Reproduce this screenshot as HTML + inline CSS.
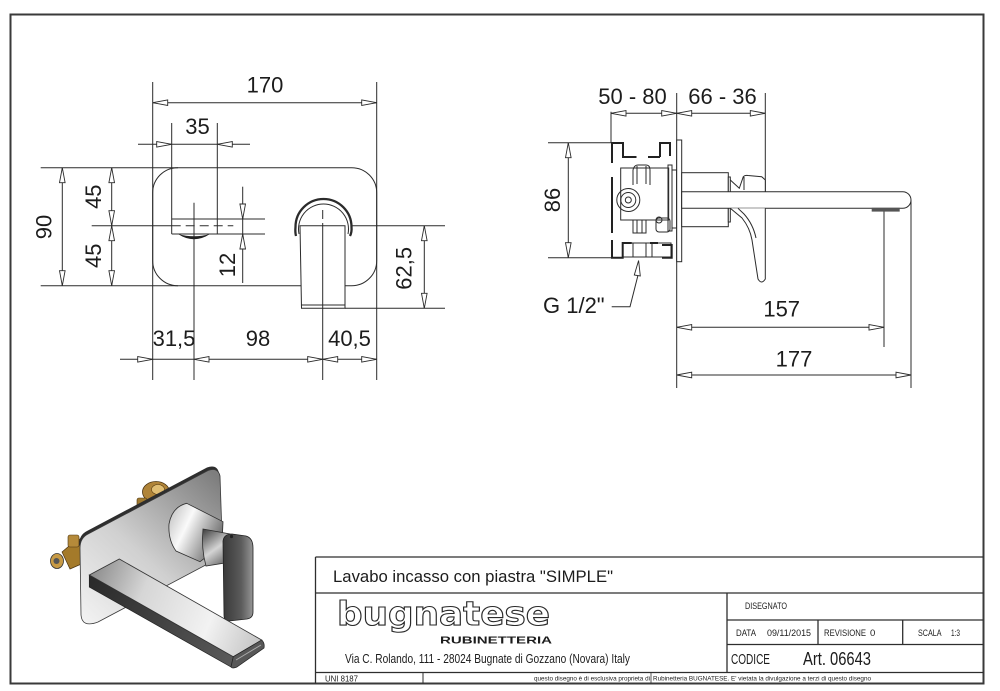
<!DOCTYPE html>
<html><head><meta charset="utf-8"><style>
html,body{margin:0;padding:0;background:#fff;}
svg{display:block;}
text{font-family:"Liberation Sans",Arial,sans-serif;fill:#1c1c1c;}
.n{font-family:"Liberation Sans Narrow","Liberation Sans",Arial,sans-serif;}
</style></head><body>
<svg width="1000" height="691" viewBox="0 0 1000 691" xmlns="http://www.w3.org/2000/svg">
<defs>
<linearGradient id="plateG" gradientUnits="userSpaceOnUse" x1="82" y1="620" x2="215" y2="475"><stop offset="0" stop-color="#f2f2f2"/><stop offset="0.45" stop-color="#d0d0d0"/><stop offset="1" stop-color="#7e7e7e"/></linearGradient>
<linearGradient id="cylG" gradientUnits="userSpaceOnUse" x1="170" y1="520" x2="222" y2="545"><stop offset="0" stop-color="#cfcfcf"/><stop offset="0.3" stop-color="#fafafa"/><stop offset="0.7" stop-color="#a0a0a0"/><stop offset="1" stop-color="#5e5e5e"/></linearGradient>
<linearGradient id="neckG" gradientUnits="userSpaceOnUse" x1="205" y1="530" x2="230" y2="565"><stop offset="0" stop-color="#4a4a4a"/><stop offset="0.5" stop-color="#d4d4d4"/><stop offset="1" stop-color="#555"/></linearGradient>
<linearGradient id="levG" gradientUnits="userSpaceOnUse" x1="224" y1="0" x2="253" y2="0"><stop offset="0" stop-color="#3a3a3a"/><stop offset="0.6" stop-color="#5c5c5c"/><stop offset="1" stop-color="#959595"/></linearGradient>
<linearGradient id="spTop" gradientUnits="userSpaceOnUse" x1="90" y1="575" x2="260" y2="645"><stop offset="0" stop-color="#8c8c8c"/><stop offset="0.3" stop-color="#d6d6d6"/><stop offset="0.7" stop-color="#f2f2f2"/><stop offset="1" stop-color="#c4c4c4"/></linearGradient>
<linearGradient id="spSide" gradientUnits="userSpaceOnUse" x1="90" y1="580" x2="232" y2="665"><stop offset="0" stop-color="#2a2a2a"/><stop offset="1" stop-color="#5a5a5a"/></linearGradient>
</defs>

<!-- frame -->
<rect x="10.5" y="14.5" width="973" height="669" fill="none" stroke="#3a3a3a" stroke-width="2"/>

<!-- ================= FRONT VIEW ================= -->
<g stroke="#2b2b2b" stroke-width="1" fill="none">
<rect x="152.7" y="167.7" width="224" height="118" rx="25" ry="25"/>
<line x1="152.7" y1="82" x2="152.7" y2="380"/>
<line x1="376.7" y1="82" x2="376.7" y2="380"/>
<line x1="152.7" y1="102.7" x2="376.7" y2="102.7"/>
<line x1="171.7" y1="123" x2="171.7" y2="234"/>
<line x1="217.3" y1="123" x2="217.3" y2="234"/>
<line x1="138" y1="144.3" x2="250" y2="144.3"/>
<line x1="40.7" y1="167.7" x2="178" y2="167.7"/>
<line x1="40.7" y1="285.7" x2="178" y2="285.7"/>
<line x1="91.7" y1="225.7" x2="171.7" y2="225.7"/>
<line x1="171.7" y1="225.7" x2="233.3" y2="225.7" stroke-dasharray="9,5"/>
<line x1="171.7" y1="219" x2="265" y2="219"/>
<line x1="171.7" y1="234" x2="265" y2="234"/>
<line x1="62.3" y1="167.7" x2="62.3" y2="285.7"/>
<line x1="111.7" y1="167.7" x2="111.7" y2="285.7"/>
<line x1="242.7" y1="186.7" x2="242.7" y2="283"/>
<line x1="194" y1="202.7" x2="194" y2="380"/>
<path d="M300,225.7 L345,225.7 L345,308.3 L301.5,308.3 Z" fill="#fff"/>
<line x1="301.3" y1="305" x2="345" y2="305"/>
<path d="M296,236 Q295,232 295.5,227 A28,28 0 1,1 351.5,227 Q352,232 350,236" stroke-width="2.3"/>
<path d="M299,234 A25,25 0 1,1 348,234"/>
<line x1="322.7" y1="210" x2="322.7" y2="219"/>
<line x1="322.7" y1="223" x2="322.7" y2="380"/>
<line x1="352" y1="225.7" x2="445" y2="225.7"/>
<line x1="345" y1="308.3" x2="445" y2="308.3"/>
<line x1="424.3" y1="225.7" x2="424.3" y2="308.3"/>
<line x1="120" y1="359.3" x2="376.7" y2="359.3"/>
</g>
<path d="M178,234 Q194,244.5 210,234 Q194,238.5 178,234 Z" fill="#222"/>
<g fill="#fff" stroke="#2b2b2b" stroke-width="0.9">
<polygon points="152.7,102.7 167.7,99.9 167.7,105.5"/>
<polygon points="376.7,102.7 361.7,99.9 361.7,105.5"/>
<polygon points="171.7,144.3 156.7,141.5 156.7,147.1"/>
<polygon points="217.3,144.3 232.3,141.5 232.3,147.1"/>
<polygon points="62.3,167.7 59.5,182.7 65.1,182.7"/>
<polygon points="62.3,285.7 59.5,270.7 65.1,270.7"/>
<polygon points="111.7,167.7 108.9,182.7 114.5,182.7"/>
<polygon points="111.7,225.7 108.9,210.7 114.5,210.7"/>
<polygon points="111.7,225.7 108.9,240.7 114.5,240.7"/>
<polygon points="111.7,285.7 108.9,270.7 114.5,270.7"/>
<polygon points="242.7,219 239.9,204 245.5,204"/>
<polygon points="242.7,234 239.9,249 245.5,249"/>
<polygon points="424.3,225.7 421.5,240.7 427.1,240.7"/>
<polygon points="424.3,308.3 421.5,293.3 427.1,293.3"/>
<polygon points="152.7,359.3 137.7,356.5 137.7,362.1"/>
<polygon points="194,359.3 209,356.5 209,362.1"/>
<polygon points="322.7,359.3 307.7,356.5 307.7,362.1"/>
<polygon points="322.7,359.3 337.7,356.5 337.7,362.1"/>
<polygon points="376.7,359.3 361.7,356.5 361.7,362.1"/>
</g>
<g font-size="22" text-anchor="middle">
<text x="265" y="92.7">170</text>
<text x="197.5" y="134">35</text>
<text transform="translate(51.5,227) rotate(-90)">90</text>
<text transform="translate(101,196.7) rotate(-90)">45</text>
<text transform="translate(101,255.8) rotate(-90)">45</text>
<text transform="translate(235,265) rotate(-90)">12</text>
<text transform="translate(411.5,268.3) rotate(-90)">62,5</text>
<text x="174" y="346">31,5</text>
<text x="258" y="346">98</text>
<text x="349.5" y="346">40,5</text>
</g>

<!-- ================= SIDE VIEW ================= -->
<g stroke="#2b2b2b" stroke-width="1" fill="none">
<line x1="611" y1="111.7" x2="611" y2="143"/>
<line x1="676.7" y1="93" x2="676.7" y2="388"/>
<line x1="765.3" y1="93" x2="765.3" y2="193"/>
<line x1="611" y1="113.3" x2="765.3" y2="113.3"/>
<line x1="548" y1="142.7" x2="611" y2="142.7"/>
<line x1="548" y1="257.7" x2="611" y2="257.7"/>
<line x1="568.3" y1="142.7" x2="568.3" y2="257.7"/>
<line x1="676.7" y1="327.3" x2="884" y2="327.3"/>
<line x1="884" y1="211" x2="884" y2="347"/>
<line x1="676.7" y1="375" x2="911" y2="375"/>
<line x1="911" y1="200" x2="911" y2="388"/>
<polyline points="638.3,274 630,306.7 611.7,306.7"/>
<rect x="620.7" y="168" width="48" height="52"/>
<rect x="668" y="165" width="4" height="66"/>
<rect x="672" y="170" width="4.7" height="58"/>
<path d="M633,185 L633,170 Q634,165 638,165 L646,165 Q650,165 650,170 L650,185"/>
<line x1="637" y1="166" x2="637" y2="184"/><line x1="646" y1="166" x2="646" y2="184"/>
<circle cx="628.3" cy="200" r="11.5"/>
<circle cx="628.3" cy="200" r="7.5"/>
<circle cx="628.3" cy="200" r="3"/>
<rect x="633" y="220" width="13" height="13"/>
<line x1="637" y1="220" x2="637" y2="233"/><line x1="642" y1="220" x2="642" y2="233"/>
<rect x="656" y="218" width="14" height="14" rx="3"/>
<circle cx="659" cy="220" r="3"/>
<rect x="623" y="243" width="48" height="14"/>
<line x1="633" y1="243" x2="633" y2="257"/><line x1="646" y1="243" x2="646" y2="257"/><line x1="652" y1="243" x2="652" y2="257"/>
<rect x="676.7" y="140" width="5" height="121.7" fill="#fff"/>
<rect x="681.7" y="172.7" width="46.6" height="54" fill="#fff"/>
<rect x="728.3" y="177" width="2" height="45" fill="#fff"/>
<path d="M730.3,180 L739.3,188.3 L743.3,176.7 Q745,175 748,175.5 L761.7,176.7 L765.3,180 L765.3,191.7" fill="#fff"/>
<line x1="744" y1="177" x2="744" y2="190"/>
<path d="M681.7,191.7 L902.7,191.7 A8.3,8.3 0 0 1 902.7,208.3 L681.7,208.3 Z" fill="#fff"/>
<path d="M730.3,208.3 L742,218 Q750,228 752,240 L758,279 Q761.5,285 765.3,279 L765.3,208.3" fill="#fff"/>
<path d="M738,208.3 L744,214 Q753,224 756,238" />
</g>
<rect x="871.7" y="207.8" width="28" height="3.8" fill="#555"/>
<g stroke="#222" stroke-width="2" fill="none">
<polyline points="612,163 612,143 623,143 623,157 636.5,157"/>
<line x1="648" y1="157" x2="660" y2="157"/>
<polyline points="660,157 660,143 670,143 670,156"/>
<line x1="612" y1="177" x2="612" y2="233"/>
<polyline points="612,240 612,257.7 622.7,257.7 622.7,243 631.7,243"/>
<line x1="650" y1="243" x2="658" y2="243"/>
<polyline points="662,245 671.7,245 671.7,257.7 662,257.7"/>
</g>
<g fill="#fff" stroke="#2b2b2b" stroke-width="0.9">
<polygon points="611,113.3 626,110.5 626,116.1"/>
<polygon points="676.7,113.3 661.7,110.5 661.7,116.1"/>
<polygon points="676.7,113.3 691.7,110.5 691.7,116.1"/>
<polygon points="765.3,113.3 750.3,110.5 750.3,116.1"/>
<polygon points="568.3,142.7 565.5,157.7 571.1,157.7"/>
<polygon points="568.3,257.7 565.5,242.7 571.1,242.7"/>
<polygon points="676.7,327.3 691.7,324.5 691.7,330.1"/>
<polygon points="884,327.3 869,324.5 869,330.1"/>
<polygon points="676.7,375 691.7,372.2 691.7,377.8"/>
<polygon points="911,375 896,372.2 896,377.8"/>
<polygon points="638.6,260.5 634.3,275 640.3,276"/>
</g>
<g font-size="22" text-anchor="middle">
<text x="632.5" y="104">50 - 80</text>
<text x="722.5" y="104">66 - 36</text>
<text transform="translate(560,200) rotate(-90)">86</text>
<text x="781.7" y="316.7">157</text>
<text x="794" y="366.7">177</text>
<text x="543" y="313" text-anchor="start">G 1/2"</text>
</g>

<!-- ================= 3D RENDER ================= -->
<polygon points="78,540 182,483 186,489 80,546" fill="#8a6420" stroke="#4a3210" stroke-width="0.6"/>
<ellipse cx="156" cy="492" rx="13.5" ry="10.5" fill="#b08438" stroke="#4a3210" stroke-width="0.8"/>
<ellipse cx="158" cy="489.5" rx="6.5" ry="5" fill="#e0bd72" stroke="#5a3e14" stroke-width="0.6"/>
<rect x="137" y="498" width="10" height="11" rx="2" fill="#a07a30" stroke="#4a3210" stroke-width="0.6"/>
<polygon points="62,552 76,540 86,544 86,562 70,569" fill="#a47a2a" stroke="#4a3210" stroke-width="0.7"/>
<rect x="68" y="535" width="11" height="12" rx="2" fill="#b58a3a" stroke="#4a3210" stroke-width="0.6"/>
<ellipse cx="57" cy="561" rx="6.5" ry="7.5" fill="#c79a45" stroke="#333" stroke-width="0.8"/>
<circle cx="56.5" cy="561" r="3" fill="#555"/>
<!-- plate thickness (top edge only) -->
<path d="M79,545 Q79,535 87,531 L207,467.5 Q217,464 219,473 L220,500 L90,560 Z" fill="#2e2e2e"/>
<!-- plate face -->
<path d="M80,548 Q80,538 88,534 L208,470.5 Q218,467 220,476 L222.7,556 L98,622 Q82,628 81,615 Z" fill="url(#plateG)" stroke="#3a3a3a" stroke-width="0.8"/>
<path d="M186.7,503.3 L223,521.7 L222,545 L200,561.7 L176,551 Q168,540 169,524 Q172,507 186.7,503.3 Z" fill="url(#cylG)" stroke="#2e2e2e" stroke-width="0.8"/>
<path d="M203,529 L230,534 L231,562 L206,566 Q201,548 203,529 Z" fill="url(#neckG)" stroke="#2e2e2e" stroke-width="0.8"/>
<path d="M223,541 Q224,534 232,534 L246,536 Q253,538 253,548 L253,612 Q253,618 247,619 L229,621 Q224,621 224,615 Z" fill="url(#levG)" stroke="#222" stroke-width="0.8"/>
<circle cx="231.5" cy="536.5" r="1.6" fill="#222"/>
<polygon points="89.3,575 89.3,587 231,667 233.3,656.7" fill="url(#spSide)" stroke="#222" stroke-width="0.7"/>
<polygon points="89.3,575 119.3,559 261.7,640 233.3,656.7" fill="url(#spTop)" stroke="#333" stroke-width="0.8"/>
<path d="M233.3,656.7 L261.7,640 Q265,643 264,648 L237,667 Q232,669 231,667 Z" fill="#575757" stroke="#222" stroke-width="0.7"/>
<line x1="236" y1="660" x2="261" y2="645" stroke="#aaa" stroke-width="1"/>

<!-- ================= TITLE BLOCK ================= -->
<g stroke="#2e2e2e" stroke-width="1.3" fill="none">
<line x1="315.5" y1="557" x2="983.5" y2="557"/>
<line x1="315.5" y1="557" x2="315.5" y2="683.5"/>
<line x1="315.5" y1="593" x2="983.5" y2="593"/>
<line x1="727" y1="593" x2="727" y2="672.5"/>
<line x1="727" y1="620" x2="983.5" y2="620"/>
<line x1="727" y1="644.5" x2="983.5" y2="644.5"/>
<line x1="818" y1="620" x2="818" y2="644.5"/>
<line x1="902.7" y1="620" x2="902.7" y2="644.5"/>
<line x1="315.5" y1="672.5" x2="983.5" y2="672.5"/>
<line x1="423" y1="672.5" x2="423" y2="683.5" stroke-width="1"/>
<line x1="651" y1="672.5" x2="651" y2="683.5" stroke-width="0.8"/>
</g>
<text class="n" x="333" y="582" font-size="16.5" textLength="280" lengthAdjust="spacingAndGlyphs">Lavabo incasso con piastra "SIMPLE"</text>
<text x="337" y="625" font-weight="bold" font-size="33" textLength="213" lengthAdjust="spacingAndGlyphs" style="font-family:'DejaVu Sans',sans-serif;fill:#fff;stroke:#2a2a2a;stroke-width:1.1">bugnatese</text>
<text x="440" y="643.5" font-size="10" font-weight="bold" textLength="112" lengthAdjust="spacingAndGlyphs">RUBINETTERIA</text>
<text class="n" x="345" y="663" font-size="13" textLength="285" lengthAdjust="spacingAndGlyphs">Via C. Rolando, 111 - 28024 Bugnate di Gozzano (Novara) Italy</text>
<text class="n" x="745" y="609" font-size="9" textLength="42" lengthAdjust="spacingAndGlyphs">DISEGNATO</text>
<text class="n" x="736" y="636" font-size="9.5" textLength="20" lengthAdjust="spacingAndGlyphs">DATA</text>
<text class="n" x="767" y="636" font-size="9.5" textLength="44" lengthAdjust="spacingAndGlyphs">09/11/2015</text>
<text class="n" x="824" y="636" font-size="9.5" textLength="42" lengthAdjust="spacingAndGlyphs">REVISIONE</text>
<text class="n" x="870" y="636" font-size="9.5">0</text>
<text class="n" x="918" y="636" font-size="9.5" textLength="23.5" lengthAdjust="spacingAndGlyphs">SCALA</text>
<text class="n" x="951" y="636" font-size="9.5" textLength="9" lengthAdjust="spacingAndGlyphs">1:3</text>
<text class="n" x="731" y="664" font-size="15" textLength="39" lengthAdjust="spacingAndGlyphs">CODICE</text>
<text class="n" x="803" y="665" font-size="18" textLength="68" lengthAdjust="spacingAndGlyphs">Art. 06643</text>
<text class="n" x="325" y="681.5" font-size="8.5" textLength="33" lengthAdjust="spacingAndGlyphs">UNI 8187</text>
<text class="n" x="534" y="680.5" font-size="6.5" textLength="116" lengthAdjust="spacingAndGlyphs">questo disegno è di esclusiva proprieta di</text>
<text class="n" x="653" y="680.5" font-size="6.5" textLength="218" lengthAdjust="spacingAndGlyphs">Rubinetteria BUGNATESE. E' vietata la divulgazione a terzi di questo disegno</text>
</svg>
</body></html>
